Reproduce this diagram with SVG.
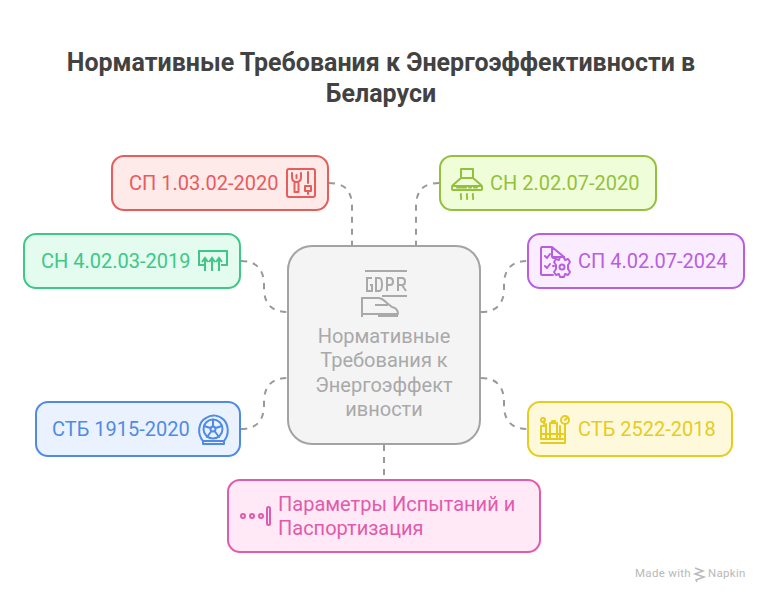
<svg xmlns="http://www.w3.org/2000/svg" width="768" height="601" viewBox="0 0 768 601">
<style>
text{font-family:Roboto,"Liberation Sans",sans-serif}
.t{font-size:25px;font-weight:700;fill:#424242;text-anchor:middle}
.l{font-size:20px}
.b{stroke-width:2}
.c{fill:none;stroke:#999;stroke-width:2;stroke-dasharray:6 6}
.i{fill:none;stroke-width:2;stroke-linecap:round;stroke-linejoin:round}
</style>
<rect width="768" height="601" fill="#fff"/>
<g id="title"><text class="t" x="381" y="71">Нормативные Требования к Энергоэффективности в</text><text class="t" x="381" y="102">Беларуси</text></g>
<g id="connectors">
<path class="c" d="M329 183C345 183 352 191 352 207V245"/>
<path class="c" d="M439 183C423 183 416 191 416 207V245"/>
<path class="c" d="M481 312C496 312 504 304 504 289V285C504 269 512 261 527 261"/>
<path class="c" d="M241 261C256 261 264 269 264 285V288C264 304 272 312 287 312"/>
<path class="c" d="M241 429C256 429 264 421 264 405V402C264 386 272 378 287 378"/>
<path class="c" d="M481 378C496 378 504 386 504 402V405C504 421 512 429 527 429"/>
<path class="c" d="M384 445V479"/>
</g>
<g id="node-center">
<rect x="288" y="246" width="192" height="198" rx="24" fill="#f4f4f4" stroke="#a3a3a3" stroke-width="2"/>
<g fill="none" stroke="#a9a9a9" stroke-width="2">
<path d="M365 271H407M382 296H407M362 297V317M362 298H378C382 298 384 300 387 303L392 307C397 308 398 311 398 314H362M375 305H388M378 316H398" stroke-linejoin="round"/>
<path d="M372 278H367V291H372V285H370M376 278V291H379C383 291 383 278 379 278ZM387 291V278H390C394 278 394 285 390 285H387M398 291V278H402C406 278 406 285 402 285H398M402 285L406 291"/>
</g>
<g class="l" fill="#a9a9a9" text-anchor="middle"><text x="384" y="343">Нормативные</text><text x="384" y="367">Требования к</text><text x="384" y="392">Энергоэффект</text><text x="384" y="416">ивности</text></g>
</g>
<g id="node-sp-1-03">
<rect class="b" x="112" y="156" width="216" height="54" rx="12" fill="#ffeaea" stroke="#e85c5c"/>
<text class="l" x="129" y="190" fill="#e85c5c">СП 1.03.02-2020</text>
<g class="i" stroke="#e85c5c"><rect x="287" y="169" width="28" height="28" rx="2"/><path d="M292 173V177C292 181 294 182 296.500 182C299 182 301 181 301 177V173M296.500 175V178M294.500 183V192H298.500V183M308 172V183M305 186H311V191H305ZM308 191V194"/></g>
</g>
<g id="node-sn-2-02">
<rect class="b" x="440" y="156" width="216" height="54" rx="12" fill="#f0fdd9" stroke="#93c13e"/>
<text class="l" x="490" y="190" fill="#93c13e">СН 2.02.07-2020</text>
<g class="i" stroke="#93c13e"><path d="M461 178V169H473V178M461 178L453 185C452 186 452 187 452 188V189C452 190 453 190 454 190H480C481 190 482 190 482 189V188C482 187 482 186 481 185L473 178ZM452 186H482M457 187.500H466M469 187.500H471M474 187.500H477M461 194C460 196 462 197 461 199M467 194C466 196 468 197 467 199M473 194C472 196 474 197 473 199"/></g>
</g>
<g id="node-sp-4-02">
<rect class="b" x="528" y="234" width="216" height="54" rx="12" fill="#f9edff" stroke="#b95ee0"/>
<text class="l" x="578" y="268" fill="#b95ee0">СП 4.02.07-2024</text>
<g class="i" stroke="#b95ee0"><path d="M552 247H542C541 247 541 248 541 249V274C541 275 541 275 542 275H553M552 247L564 257V258M552 247V257H564M545 256L547 258L550 254M545 266L547 268L550 264M553 258H556M553 266H554"/><circle cx="562" cy="267" r="2.500"/><path d="M560 257H564L565 260L568 259L570 262L568 265V269L570 272L568 275L565 274L564 277H560L559 274L556 275L554 272L556 269V265L554 262L556 259L559 260Z"/></g>
</g>
<g id="node-sn-4-02">
<rect class="b" x="24" y="234" width="216" height="54" rx="12" fill="#e3fcef" stroke="#3ec787"/>
<text class="l" x="41" y="268" fill="#3ec787">СН 4.02.03-2019</text>
<g class="i" stroke="#3ec787" style="stroke-linecap:butt;stroke-linejoin:miter"><path d="M206 265H199V251H227V265H221M205 271V258M212 271V258M219 271V258M202 262L205 258L208 262M209 262L212 258L215 262M216 262L219 258L222 262"/></g>
</g>
<g id="node-stb-1915">
<rect class="b" x="36" y="402" width="204" height="54" rx="12" fill="#ebf2ff" stroke="#4f8be6"/>
<text class="l" x="52" y="436" fill="#4f8be6">СТБ 1915-2020</text>
<g class="i" stroke="#4f8be6"><path d="M203 441C197 434 198 422 206 418C212 414 219 415 224 420C229 426 229 435 224 441M203 441H224V444H203Z"/><circle cx="213" cy="429" r="9.500"/><circle cx="213" cy="429" r="2.500"/><path d="M213 419.500V426.500M204 426L210.500 428M207 437L211.500 431M219 437L214.500 431M222 426L215.500 428"/></g>
</g>
<g id="node-stb-2522">
<rect class="b" x="528" y="402" width="204" height="54" rx="12" fill="#fff9db" stroke="#e5cc1f"/>
<text class="l" x="578" y="436" fill="#e5cc1f">СТБ 2522-2018</text>
<g class="i" stroke="#e5cc1f"><circle cx="565" cy="420" r="4"/><path d="M565 420L567 418M541 443H565V424M541 426V439H563M541 426H546M546 424V439M550 423H557V439H550ZM552 423V421H555V423M560 426V439M544 424V421M541 434H563"/><circle cx="543" cy="420" r="2"/></g>
</g>
<g id="node-params">
<rect class="b" x="228" y="480" width="312" height="72" rx="12" fill="#ffe9f7" stroke="#e25aab"/>
<g class="l" fill="#e25aab"><text x="278" y="511">Параметры Испытаний и</text><text x="278" y="535">Паспортизация</text></g>
<g fill="none" stroke="#e25aab" stroke-width="2"><circle cx="243" cy="516" r="2"/><circle cx="252" cy="516" r="2"/><circle cx="261" cy="516" r="2"/><rect x="267" y="507" width="3" height="18" rx="1.500"/></g>
</g>
<g id="watermark"><text x="635" y="577" font-size="11.500" fill="#b9b9b9" letter-spacing=".3">Made with</text><path d="M695 568L703 571L695 574L704 577L696 580L697 582" fill="none" stroke="#b9b9b9" stroke-width="1.500"/><text x="708" y="577" font-size="11.500" fill="#b9b9b9" letter-spacing=".3">Napkin</text></g>
</svg>
